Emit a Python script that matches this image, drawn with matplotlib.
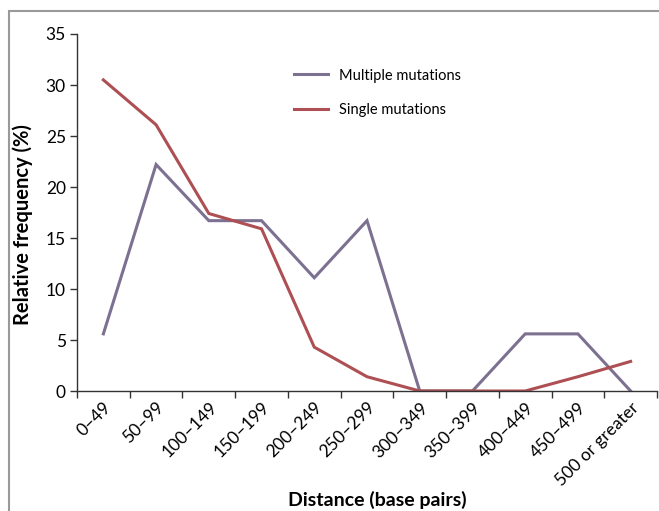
import matplotlib.pyplot as plt
import numpy as np
from matplotlib.patches import Rectangle

plt.rcParams['font.family'] = ['Lato', 'DejaVu Sans']

categories = ["0–49", "50–99", "100–149", "150–199", "200–249", "250–299",
              "300–349", "350–399", "400–449", "450–499", "500 or greater"]
multiple = [5.6, 22.2, 16.7, 16.7, 11.1, 16.7, 0, 0, 5.6, 5.6, 0]
single = [30.5, 26.1, 17.4, 15.9, 4.3, 1.4, 0, 0, 0, 1.4, 2.9]

fig = plt.figure(figsize=(6.59, 5.11), dpi=100)
ax = fig.add_axes([77 / 659, 1 - 391 / 511, 580 / 659, 357 / 511])

x = np.arange(len(categories))
ax.plot(x, multiple, color="#7d7191", lw=2.2, label="Multiple mutations", solid_joinstyle="miter")
ax.plot(x, single, color="#ad4f53", lw=2.2, label="Single mutations", solid_joinstyle="miter")

ax.set_xlim(-0.5, len(categories) - 0.5)
ax.set_ylim(0, 35)
ax.set_yticks(np.arange(0, 36, 5))
ax.set_xticks(np.arange(-0.5, len(categories), 1))
ax.set_xticklabels([])
ax.set_xticks(x, minor=True)
ax.set_xticklabels(categories, minor=True, rotation=45, ha="right", rotation_mode="anchor")
ax.tick_params(axis="x", which="minor", length=0, pad=6, labelsize=12.5)
ax.tick_params(axis="x", which="major", length=5, color="#333333", width=1)
ax.tick_params(axis="y", length=5, color="#333333", width=1, labelsize=12.5, pad=3)

for s in ["top", "right"]:
    ax.spines[s].set_visible(False)
for s in ["left", "bottom"]:
    ax.spines[s].set_color("#333333")
    ax.spines[s].set_linewidth(1)

ax.set_ylabel("Relative frequency (%)", fontweight="bold", fontsize=14.5)
ax.yaxis.set_label_coords(-0.076, 0.465)
fig.text(377 / 659, 2 / 511, "Distance (base pairs)", fontweight="bold", fontsize=14,
         ha="center", va="bottom")

ax.legend(loc="upper left", bbox_to_anchor=(0.352, 0.94), frameon=False, fontsize=10.5,
          handlelength=2.3, labelspacing=1.4, handletextpad=0.8)

# outer frame of the original figure
fig.patches.append(Rectangle((8.5 / 659, -0.1), 1.2, 1 - 11.5 / 511 + 0.1, transform=fig.transFigure,
                             fill=False, edgecolor="#999999", lw=1.5))

fig.savefig("out.png", dpi=100)
